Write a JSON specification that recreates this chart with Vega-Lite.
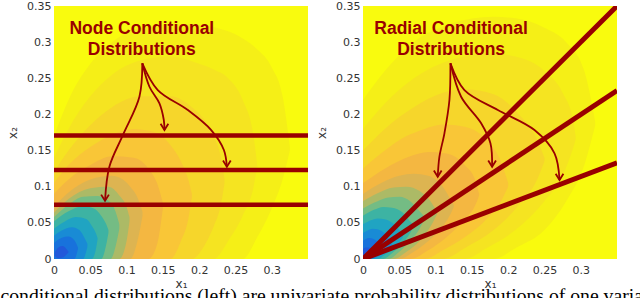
{
  "$schema": "https://vega.github.io/schema/vega-lite/v6.json",
  "padding": {"left": 0, "top": 0, "right": 0, "bottom": 0},
  "background": "white",
  "config": {
    "view": {"stroke": null, "fill": "#F9FB0E"},
    "axis": {"domain": false, "ticks": false, "grid": false, "labelFont": "DejaVu Sans", "labelFontSize": 11, "labelColor": "#333333", "titleFont": "DejaVu Sans", "titleFontSize": 12, "titleFontWeight": "normal", "titleColor": "#333333", "labelFlush": false, "labelOverlap": false}
  },
  "title": {"text": "conditional distributions (left) are univariate probability distributions of one variable", "orient": "bottom", "anchor": "start", "frame": "bounds", "font": "Liberation Serif", "fontSize": 19.7, "fontWeight": "normal", "color": "black", "baseline": "alphabetic", "offset": 13, "dx": -6},
  "datasets": {
    "cL": [
      {"k":1,"x":0,"y":0.17,"y2":0},{"k":1,"x":0.02,"y":0.22,"y2":0},{"k":1,"x":0.05,"y":0.27,"y2":0},{"k":1,"x":0.08,"y":0.3,"y2":0},{"k":1,"x":0.12,"y":0.32,"y2":0},{"k":1,"x":0.18,"y":0.325,"y2":0},{"k":1,"x":0.24,"y":0.315,"y2":0},{"k":1,"x":0.26,"y":0.305,"y2":0},{"k":1,"x":0.28,"y":0.29,"y2":0.03},{"k":1,"x":0.3,"y":0.265,"y2":0.07},{"k":1,"x":0.315,"y":0.225,"y2":0.11},{"k":1,"x":0.325,"y":0.155,"y2":0.15},
      {"k":2,"x":0,"y":0.14,"y2":0},{"k":2,"x":0.02,"y":0.18,"y2":0},{"k":2,"x":0.05,"y":0.225,"y2":0},{"k":2,"x":0.08,"y":0.255,"y2":0},{"k":2,"x":0.12,"y":0.275,"y2":0},{"k":2,"x":0.16,"y":0.28,"y2":0},{"k":2,"x":0.2,"y":0.27,"y2":0},{"k":2,"x":0.22,"y":0.262,"y2":0},{"k":2,"x":0.24,"y":0.25,"y2":0.025},{"k":2,"x":0.26,"y":0.22,"y2":0.06},{"k":2,"x":0.275,"y":0.17,"y2":0.1},{"k":2,"x":0.28,"y":0.13,"y2":0.128},
      {"k":3,"x":0,"y":0.12,"y2":0},{"k":3,"x":0.02,"y":0.15,"y2":0},{"k":3,"x":0.05,"y":0.185,"y2":0},{"k":3,"x":0.08,"y":0.21,"y2":0},{"k":3,"x":0.12,"y":0.225,"y2":0},{"k":3,"x":0.16,"y":0.225,"y2":0},{"k":3,"x":0.19,"y":0.21,"y2":0},{"k":3,"x":0.205,"y":0.195,"y2":0.015},{"k":3,"x":0.22,"y":0.17,"y2":0.045},{"k":3,"x":0.23,"y":0.14,"y2":0.075},{"k":3,"x":0.235,"y":0.11,"y2":0.105},
      {"k":4,"x":0,"y":0.105,"y2":0},{"k":4,"x":0.02,"y":0.13,"y2":0},{"k":4,"x":0.05,"y":0.155,"y2":0},{"k":4,"x":0.08,"y":0.172,"y2":0},{"k":4,"x":0.11,"y":0.18,"y2":0},{"k":4,"x":0.14,"y":0.175,"y2":0},{"k":4,"x":0.16,"y":0.158,"y2":0},{"k":4,"x":0.175,"y":0.135,"y2":0.025},{"k":4,"x":0.185,"y":0.11,"y2":0.055},{"k":4,"x":0.19,"y":0.09,"y2":0.085},
      {"k":5,"x":0,"y":0.09,"y2":0},{"k":5,"x":0.02,"y":0.11,"y2":0},{"k":5,"x":0.05,"y":0.13,"y2":0},{"k":5,"x":0.08,"y":0.142,"y2":0},{"k":5,"x":0.11,"y":0.14,"y2":0},{"k":5,"x":0.13,"y":0.125,"y2":0},{"k":5,"x":0.142,"y":0.105,"y2":0.02},{"k":5,"x":0.15,"y":0.078,"y2":0.07},
      {"k":6,"x":0,"y":0.072,"y2":0},{"k":6,"x":0.02,"y":0.092,"y2":0},{"k":6,"x":0.05,"y":0.11,"y2":0},{"k":6,"x":0.08,"y":0.115,"y2":0},{"k":6,"x":0.1,"y":0.106,"y2":0},{"k":6,"x":0.105,"y":0.1,"y2":0},{"k":6,"x":0.115,"y":0.085,"y2":0.025},{"k":6,"x":0.122,"y":0.065,"y2":0.06},
      {"k":7,"x":0,"y":0.064,"y2":0},{"k":7,"x":0.02,"y":0.083,"y2":0},{"k":7,"x":0.05,"y":0.098,"y2":0},{"k":7,"x":0.075,"y":0.1,"y2":0},{"k":7,"x":0.09,"y":0.088,"y2":0},{"k":7,"x":0.1,"y":0.072,"y2":0.025},{"k":7,"x":0.104,"y":0.058,"y2":0.052},
      {"k":8,"x":0,"y":0.058,"y2":0},{"k":8,"x":0.02,"y":0.075,"y2":0},{"k":8,"x":0.04,"y":0.086,"y2":0},{"k":8,"x":0.06,"y":0.087,"y2":0},{"k":8,"x":0.078,"y":0.078,"y2":0},{"k":8,"x":0.085,"y":0.065,"y2":0.018},{"k":8,"x":0.09,"y":0.048,"y2":0.042},
      {"k":9,"x":0,"y":0.052,"y2":0},{"k":9,"x":0.02,"y":0.066,"y2":0},{"k":9,"x":0.04,"y":0.073,"y2":0},{"k":9,"x":0.055,"y":0.07,"y2":0},{"k":9,"x":0.065,"y":0.06,"y2":0},{"k":9,"x":0.072,"y":0.048,"y2":0.02},{"k":9,"x":0.075,"y":0.04,"y2":0.036},
      {"k":10,"x":0,"y":0.042,"y2":0},{"k":10,"x":0.015,"y":0.052,"y2":0},{"k":10,"x":0.03,"y":0.058,"y2":0},{"k":10,"x":0.045,"y":0.055,"y2":0},{"k":10,"x":0.052,"y":0.046,"y2":0},{"k":10,"x":0.058,"y":0.035,"y2":0.015},{"k":10,"x":0.06,"y":0.029,"y2":0.027},
      {"k":11,"x":0,"y":0.032,"y2":0},{"k":11,"x":0.01,"y":0.039,"y2":0},{"k":11,"x":0.025,"y":0.044,"y2":0},{"k":11,"x":0.035,"y":0.04,"y2":0},{"k":11,"x":0.04,"y":0.033,"y2":0},{"k":11,"x":0.046,"y":0.021,"y2":0.017},
      {"k":12,"x":0,"y":0.022,"y2":0},{"k":12,"x":0.01,"y":0.029,"y2":0},{"k":12,"x":0.02,"y":0.031,"y2":0},{"k":12,"x":0.028,"y":0.026,"y2":0},{"k":12,"x":0.033,"y":0.016,"y2":0.014},
      {"k":13,"x":0.001,"y":0.009,"y2":0.004},{"k":13,"x":0.006,"y":0.016,"y2":0.001},{"k":13,"x":0.012,"y":0.018,"y2":0.002},{"k":13,"x":0.017,"y":0.014,"y2":0.006},{"k":13,"x":0.02,"y":0.01,"y2":0.009}
    ],
    "cR": [
      {"k":1,"x":0,"y":0.22,"y2":0},{"k":1,"x":0.03,"y":0.26,"y2":0},{"k":1,"x":0.07,"y":0.3,"y2":0},{"k":1,"x":0.12,"y":0.325,"y2":0},{"k":1,"x":0.18,"y":0.335,"y2":0},{"k":1,"x":0.21,"y":0.333,"y2":0.015},{"k":1,"x":0.25,"y":0.32,"y2":0.04},{"k":1,"x":0.28,"y":0.3,"y2":0.08},{"k":1,"x":0.305,"y":0.26,"y2":0.13},{"k":1,"x":0.32,"y":0.19,"y2":0.185},
      {"k":2,"x":0,"y":0.18,"y2":0},{"k":2,"x":0.03,"y":0.215,"y2":0},{"k":2,"x":0.07,"y":0.25,"y2":0},{"k":2,"x":0.12,"y":0.275,"y2":0},{"k":2,"x":0.14,"y":0.28,"y2":0},{"k":2,"x":0.17,"y":0.285,"y2":0.015},{"k":2,"x":0.21,"y":0.28,"y2":0.04},{"k":2,"x":0.25,"y":0.26,"y2":0.08},{"k":2,"x":0.275,"y":0.23,"y2":0.115},{"k":2,"x":0.29,"y":0.19,"y2":0.155},{"k":2,"x":0.293,"y":0.17,"y2":0.165},
      {"k":3,"x":0,"y":0.15,"y2":0},{"k":3,"x":0.03,"y":0.18,"y2":0},{"k":3,"x":0.07,"y":0.21,"y2":0},{"k":3,"x":0.11,"y":0.23,"y2":0},{"k":3,"x":0.14,"y":0.235,"y2":0.015},{"k":3,"x":0.18,"y":0.228,"y2":0.04},{"k":3,"x":0.215,"y":0.2,"y2":0.075},{"k":3,"x":0.24,"y":0.165,"y2":0.11},{"k":3,"x":0.25,"y":0.14,"y2":0.135},
      {"k":4,"x":0,"y":0.125,"y2":0},{"k":4,"x":0.03,"y":0.15,"y2":0},{"k":4,"x":0.06,"y":0.17,"y2":0},{"k":4,"x":0.085,"y":0.18,"y2":0},{"k":4,"x":0.11,"y":0.186,"y2":0.012},{"k":4,"x":0.14,"y":0.183,"y2":0.03},{"k":4,"x":0.17,"y":0.165,"y2":0.055},{"k":4,"x":0.19,"y":0.135,"y2":0.08},{"k":4,"x":0.2,"y":0.105,"y2":0.1},
      {"k":5,"x":0,"y":0.105,"y2":0},{"k":5,"x":0.03,"y":0.125,"y2":0},{"k":5,"x":0.065,"y":0.142,"y2":0},{"k":5,"x":0.09,"y":0.148,"y2":0.012},{"k":5,"x":0.115,"y":0.146,"y2":0.03},{"k":5,"x":0.14,"y":0.13,"y2":0.055},{"k":5,"x":0.155,"y":0.108,"y2":0.075},{"k":5,"x":0.16,"y":0.09,"y2":0.088},
      {"k":6,"x":0,"y":0.09,"y2":0},{"k":6,"x":0.025,"y":0.105,"y2":0},{"k":6,"x":0.05,"y":0.115,"y2":0},{"k":6,"x":0.07,"y":0.118,"y2":0.01},{"k":6,"x":0.09,"y":0.115,"y2":0.025},{"k":6,"x":0.11,"y":0.1,"y2":0.045},{"k":6,"x":0.122,"y":0.08,"y2":0.065},{"k":6,"x":0.125,"y":0.075,"y2":0.072},
      {"k":7,"x":0,"y":0.08,"y2":0},{"k":7,"x":0.02,"y":0.091,"y2":0},{"k":7,"x":0.042,"y":0.099,"y2":0},{"k":7,"x":0.06,"y":0.1,"y2":0.01},{"k":7,"x":0.078,"y":0.094,"y2":0.025},{"k":7,"x":0.093,"y":0.08,"y2":0.045},{"k":7,"x":0.102,"y":0.065,"y2":0.062},
      {"k":8,"x":0,"y":0.07,"y2":0},{"k":8,"x":0.02,"y":0.08,"y2":0},{"k":8,"x":0.035,"y":0.085,"y2":0},{"k":8,"x":0.05,"y":0.086,"y2":0.01},{"k":8,"x":0.065,"y":0.08,"y2":0.025},{"k":8,"x":0.078,"y":0.066,"y2":0.042},{"k":8,"x":0.085,"y":0.058,"y2":0.056},
      {"k":9,"x":0,"y":0.06,"y2":0},{"k":9,"x":0.015,"y":0.068,"y2":0},{"k":9,"x":0.028,"y":0.072,"y2":0},{"k":9,"x":0.04,"y":0.071,"y2":0.008},{"k":9,"x":0.055,"y":0.064,"y2":0.022},{"k":9,"x":0.065,"y":0.052,"y2":0.036},{"k":9,"x":0.07,"y":0.047,"y2":0.046},
      {"k":10,"x":0,"y":0.048,"y2":0},{"k":10,"x":0.012,"y":0.054,"y2":0},{"k":10,"x":0.02,"y":0.056,"y2":0},{"k":10,"x":0.03,"y":0.055,"y2":0.006},{"k":10,"x":0.045,"y":0.046,"y2":0.017},{"k":10,"x":0.055,"y":0.033,"y2":0.03},
      {"k":11,"x":0,"y":0.036,"y2":0},{"k":11,"x":0.01,"y":0.041,"y2":0},{"k":11,"x":0.013,"y":0.042,"y2":0},{"k":11,"x":0.02,"y":0.041,"y2":0.003},{"k":11,"x":0.03,"y":0.035,"y2":0.009},{"k":11,"x":0.037,"y":0.026,"y2":0.016},{"k":11,"x":0.04,"y":0.02,"y2":0.019},
      {"k":12,"x":0,"y":0.025,"y2":0},{"k":12,"x":0.008,"y":0.029,"y2":0},{"k":12,"x":0.016,"y":0.027,"y2":0.003},{"k":12,"x":0.023,"y":0.019,"y2":0.007},{"k":12,"x":0.026,"y":0.013,"y2":0.011},
      {"k":13,"x":0,"y":0.014,"y2":0},{"k":13,"x":0.004,"y":0.016,"y2":0},{"k":13,"x":0.008,"y":0.016,"y2":0.002},{"k":13,"x":0.012,"y":0.012,"y2":0.004},{"k":13,"x":0.014,"y":0.008,"y2":0.007}
    ],
    "linesL": [
      {"x":0,"x2":0.35,"y":0.075,"y2":0.075},{"x":0,"x2":0.35,"y":0.123,"y2":0.123},{"x":0,"x2":0.35,"y":0.171,"y2":0.171}
    ],
    "linesR": [
      {"x":0,"x2":0.35,"y":0,"y2":0.35},{"x":0,"x2":0.35,"y":0,"y2":0.233},{"x":0,"x2":0.35,"y":0,"y2":0.133}
    ],
    "arrowsL": [
      {"a":1,"i":1,"x":0.1217,"y":0.2707},{"a":1,"i":2,"x":0.1177,"y":0.2245},{"a":1,"i":3,"x":0.0947,"y":0.171},{"a":1,"i":4,"x":0.0763,"y":0.1277},{"a":1,"i":5,"x":0.0703,"y":0.0805},
      {"a":2,"i":1,"x":0.1217,"y":0.2707},{"a":2,"i":2,"x":0.1315,"y":0.2383},{"a":2,"i":3,"x":0.1453,"y":0.2153},{"a":2,"i":4,"x":0.1513,"y":0.1923},{"a":2,"i":5,"x":0.1522,"y":0.1784},
      {"a":3,"i":1,"x":0.1217,"y":0.2707},{"a":3,"i":2,"x":0.143,"y":0.2337},{"a":3,"i":3,"x":0.1844,"y":0.2061},{"a":3,"i":4,"x":0.2166,"y":0.1784},{"a":3,"i":5,"x":0.2341,"y":0.1508},{"a":3,"i":6,"x":0.2382,"y":0.1277}
    ],
    "tipsL": [
      {"x":0.0703,"y":0.0805},{"x":0.1522,"y":0.1784},{"x":0.2382,"y":0.1277}
    ],
    "arrowsR": [
      {"a":1,"i":1,"x":0.1205,"y":0.2707},{"a":1,"i":2,"x":0.1191,"y":0.2199},{"a":1,"i":3,"x":0.1122,"y":0.1739},{"a":1,"i":4,"x":0.1053,"y":0.1415},{"a":1,"i":5,"x":0.103,"y":0.1138},
      {"a":2,"i":1,"x":0.1205,"y":0.2707},{"a":2,"i":2,"x":0.1352,"y":0.2245},{"a":2,"i":3,"x":0.1628,"y":0.1877},{"a":2,"i":4,"x":0.1756,"y":0.16},{"a":2,"i":5,"x":0.1779,"y":0.1277},
      {"a":3,"i":1,"x":0.1205,"y":0.2707},{"a":3,"i":2,"x":0.1398,"y":0.2337},{"a":3,"i":3,"x":0.1858,"y":0.2061},{"a":3,"i":4,"x":0.2363,"y":0.1784},{"a":3,"i":5,"x":0.2639,"y":0.1462},{"a":3,"i":6,"x":0.2708,"y":0.1093}
    ],
    "tipsR": [
      {"x":0.103,"y":0.1138},{"x":0.1779,"y":0.1277},{"x":0.2708,"y":0.1093}
    ],
    "textL": [
      {"x":0.121,"y":0.318,"t":"Node Conditional"},{"x":0.121,"y":0.289,"t":"Distributions"}
    ],
    "textR": [
      {"x":0.1214,"y":0.318,"t":"Radial Conditional"},{"x":0.1214,"y":0.289,"t":"Distributions"}
    ]
  },
  "spacing": 7,
  "hconcat": [
    {
      "width": 254,
      "height": 253,
      "encoding": {
        "x": {"field": "x", "type": "quantitative", "scale": {"domain": [0, 0.35], "nice": false, "zero": false}, "axis": {"values": [0, 0.05, 0.1, 0.15, 0.2, 0.25, 0.3], "format": "~g", "labelPadding": 5, "title": "x₁", "titlePadding": 3}},
        "y": {"field": "y", "type": "quantitative", "stack": null, "scale": {"domain": [0, 0.35], "nice": false, "zero": false}, "axis": {"values": [0, 0.05, 0.1, 0.15, 0.2, 0.25, 0.3, 0.35], "format": "~g", "labelPadding": 3, "title": "x₂", "titlePadding": 7}}
      },
      "layer": [
        {"data": {"name": "cL"}, "mark": {"type": "area", "interpolate": "monotone", "clip": true}, "encoding": {"y2": {"field": "y2"}, "color": {"field": "k", "type": "ordinal", "scale": {"domain": [1,2,3,4,5,6,7,8,9,10,11,12,13], "range": ["#F5EF17","#F5E421","#F6D62B","#F9C637","#F4B741","#DDB451","#ACBA66","#74BC84","#3DB3A3","#20A4C2","#198BD5","#1872DC","#2159DA"]}, "legend": null}}},
        {"data": {"name": "linesL"}, "mark": {"type": "rule", "color": "#990000", "strokeWidth": 4.5, "clip": true}, "encoding": {"x2": {"field": "x2"}, "y2": {"field": "y2"}}},
        {"data": {"name": "arrowsL"}, "mark": {"type": "line", "interpolate": "catmull-rom", "color": "#990000", "strokeWidth": 1.8}, "encoding": {"detail": {"field": "a", "type": "nominal"}, "order": {"field": "i", "type": "quantitative"}}},
        {"data": {"name": "tipsL"}, "mark": {"type": "point", "shape": "M-1,-1.6L0,0L1,-1.6", "filled": false, "color": "#990000", "strokeWidth": 1.8, "size": 60, "opacity": 1}, "encoding": {}},
        {"data": {"name": "textL"}, "mark": {"type": "text", "font": "Liberation Sans", "fontWeight": "bold", "fontSize": 17.5, "color": "#990000", "align": "center", "baseline": "middle"}, "encoding": {"text": {"field": "t", "type": "nominal"}}}
      ]
    },
    {
      "width": 254,
      "height": 253,
      "encoding": {
        "x": {"field": "x", "type": "quantitative", "scale": {"domain": [0, 0.35], "nice": false, "zero": false}, "axis": {"values": [0, 0.05, 0.1, 0.15, 0.2, 0.25, 0.3], "format": "~g", "labelPadding": 5, "title": "x₁", "titlePadding": 3}},
        "y": {"field": "y", "type": "quantitative", "stack": null, "scale": {"domain": [0, 0.35], "nice": false, "zero": false}, "axis": {"values": [0, 0.05, 0.1, 0.15, 0.2, 0.25, 0.3, 0.35], "format": "~g", "labelPadding": 3, "title": "x₂", "titlePadding": 7}}
      },
      "layer": [
        {"data": {"name": "cR"}, "mark": {"type": "area", "interpolate": "monotone", "clip": true}, "encoding": {"y2": {"field": "y2"}, "color": {"field": "k", "type": "ordinal", "scale": {"domain": [1,2,3,4,5,6,7,8,9,10,11,12,13], "range": ["#F5EF17","#F5E421","#F6D62B","#F9C637","#F4B741","#DDB451","#ACBA66","#74BC84","#3DB3A3","#20A4C2","#198BD5","#1872DC","#2159DA"]}, "legend": null}}},
        {"data": {"name": "linesR"}, "mark": {"type": "rule", "color": "#990000", "strokeWidth": 5, "clip": true}, "encoding": {"x2": {"field": "x2"}, "y2": {"field": "y2"}}},
        {"data": {"name": "arrowsR"}, "mark": {"type": "line", "interpolate": "catmull-rom", "color": "#990000", "strokeWidth": 1.8}, "encoding": {"detail": {"field": "a", "type": "nominal"}, "order": {"field": "i", "type": "quantitative"}}},
        {"data": {"name": "tipsR"}, "mark": {"type": "point", "shape": "M-1,-1.6L0,0L1,-1.6", "filled": false, "color": "#990000", "strokeWidth": 1.8, "size": 60, "opacity": 1}, "encoding": {}},
        {"data": {"name": "textR"}, "mark": {"type": "text", "font": "Liberation Sans", "fontWeight": "bold", "fontSize": 17.5, "color": "#990000", "align": "center", "baseline": "middle"}, "encoding": {"text": {"field": "t", "type": "nominal"}}}
      ]
    }
  ]
}
